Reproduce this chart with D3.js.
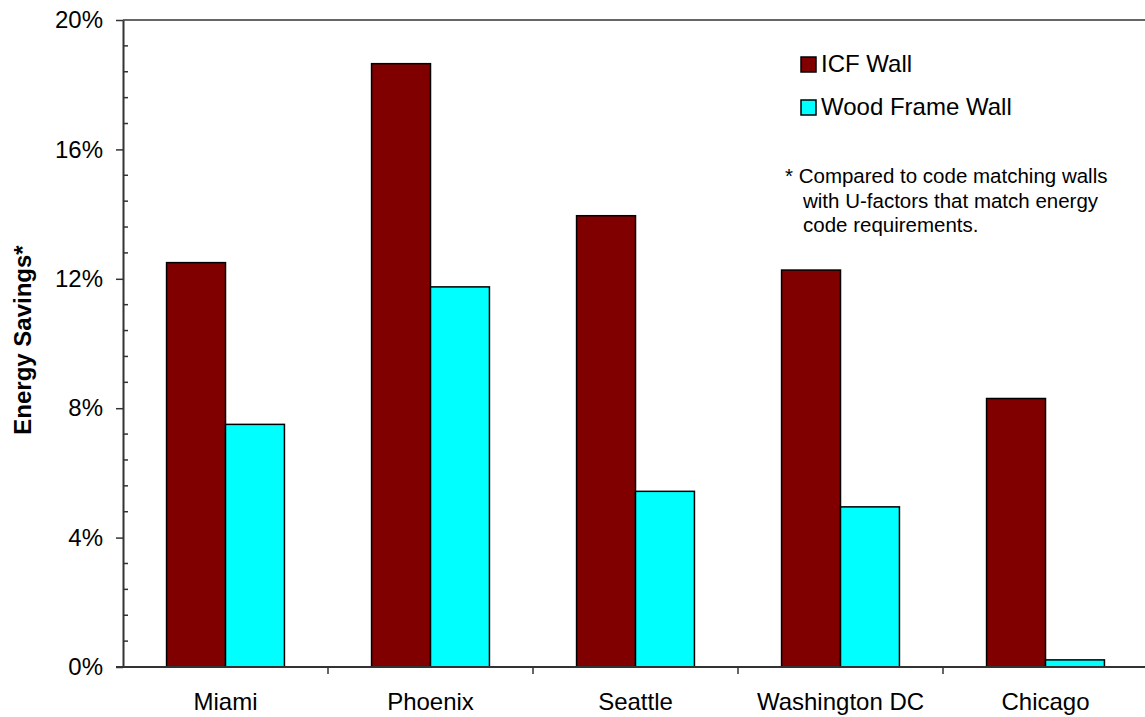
<!DOCTYPE html>
<html>
<head>
<meta charset="utf-8">
<script src="https://cdn.jsdelivr.net/npm/d3@7"></script>
<style>
  body { margin: 0; background: #fff; }
  svg { display: block; font-family: "Liberation Sans", Arial, sans-serif; }
</style>
</head>
<body>
<svg id="chart" width="1145" height="717"></svg>
<script>
// Energy savings by city, two wall types
const cities = ["Miami", "Phoenix", "Seattle", "Washington DC", "Chicago"];
const seriesNames = ["ICF Wall", "Wood Frame Wall"];
const icfWall = [12.5, 18.65, 13.95, 12.27, 8.3];
const woodFrameWall = [7.5, 11.75, 5.43, 4.95, 0.22];
const yTickValues = [0, 4, 8, 12, 16, 20];
const colors = ["#800000", "#00ffff"];
const footnote = [
  "* Compared to code matching walls",
  "with U-factors that match energy",
  "code requirements."
];

const svg = d3.select("#chart");
const plotLeft = 123, plotTop = 20, plotBottom = 667, plotRight = 1148;

const x = d3.scaleBand().domain(cities).range([plotLeft, plotRight]).paddingInner(0).paddingOuter(0);
const groupWidth = x.bandwidth() * 0.575;
const xs = d3.scaleBand().domain(seriesNames).range([0, groupWidth]);
const y = d3.scaleLinear().domain([0, 20]).range([plotBottom, plotTop]);

const rows = cities.map((c, i) => ({ city: c, values: [icfWall[i], woodFrameWall[i]] }));

// top border line
svg.append("line").attr("x1", plotLeft).attr("x2", plotRight).attr("y1", plotTop).attr("y2", plotTop)
  .attr("stroke", "#333").attr("stroke-width", 1.5);

// bars
const g = svg.append("g");
rows.forEach(r => {
  const x0 = x(r.city) + (x.bandwidth() - groupWidth) / 2;
  r.values.forEach((v, j) => {
    g.append("rect")
      .attr("x", x0 + xs(seriesNames[j]))
      .attr("y", y(v))
      .attr("width", xs.bandwidth())
      .attr("height", y(0) - y(v))
      .attr("fill", colors[j])
      .attr("stroke", "#000")
      .attr("stroke-width", 1.5);
  });
});

// y axis: major ticks outward, minor ticks inward
const yAxis = d3.axisLeft(y).tickValues(yTickValues).tickFormat(d => d + "%").tickSize(7).tickSizeOuter(0);
const ya = svg.append("g").attr("transform", `translate(${plotLeft},0)`).call(yAxis);
ya.select(".domain").attr("stroke", "#333").attr("stroke-width", 2);
ya.selectAll(".tick line").attr("stroke", "#333").attr("stroke-width", 1.5);
ya.selectAll(".tick text").attr("font-size", 24).attr("fill", "#000").attr("x", -20)
  .attr("font-family", "Liberation Sans, Arial, sans-serif");
const minor = d3.range(0, 20.01, 0.8).filter(v => Math.abs(v / 4 - Math.round(v / 4)) > 0.01);
svg.append("g").selectAll("line").data(minor).join("line")
  .attr("x1", plotLeft).attr("x2", plotLeft + 5)
  .attr("y1", d => y(d)).attr("y2", d => y(d))
  .attr("stroke", "#333").attr("stroke-width", 1.5);

// x axis with ticks between categories
const xa = svg.append("g").attr("transform", `translate(0,${plotBottom})`);
xa.append("line").attr("x1", plotLeft - 7).attr("x2", plotRight).attr("stroke", "#333").attr("stroke-width", 2);
xa.selectAll(".sep").data(cities.slice(1)).join("line")
  .attr("class", "sep")
  .attr("x1", d => x(d)).attr("x2", d => x(d)).attr("y1", 0).attr("y2", 7)
  .attr("stroke", "#333").attr("stroke-width", 1.5);
xa.selectAll("text").data(cities).join("text")
  .attr("x", d => x(d) + x.bandwidth() / 2)
  .attr("y", 43)
  .attr("text-anchor", "middle")
  .attr("font-size", 24)
  .text(d => d);

// y axis title
svg.append("text")
  .attr("transform", `translate(31,340) rotate(-90)`)
  .attr("text-anchor", "middle")
  .attr("font-size", 24).attr("font-weight", "bold")
  .text("Energy Savings*");

// legend
const legend = svg.append("g");
seriesNames.forEach((n, i) => {
  const base = 72 + i * 43;
  legend.append("rect").attr("x", 801).attr("y", base - 15).attr("width", 15).attr("height", 15)
    .attr("fill", colors[i]).attr("stroke", "#000").attr("stroke-width", 1.5);
  legend.append("text").attr("x", 821).attr("y", base).attr("font-size", 24).text(n);
});

// footnote
svg.append("g").selectAll("text").data(footnote).join("text")
  .attr("x", (d, i) => i === 0 ? 785 : 803)
  .attr("y", (d, i) => 183 + i * 24.5)
  .attr("font-size", 20.5)
  .text(d => d);
</script>
</body>
</html>
